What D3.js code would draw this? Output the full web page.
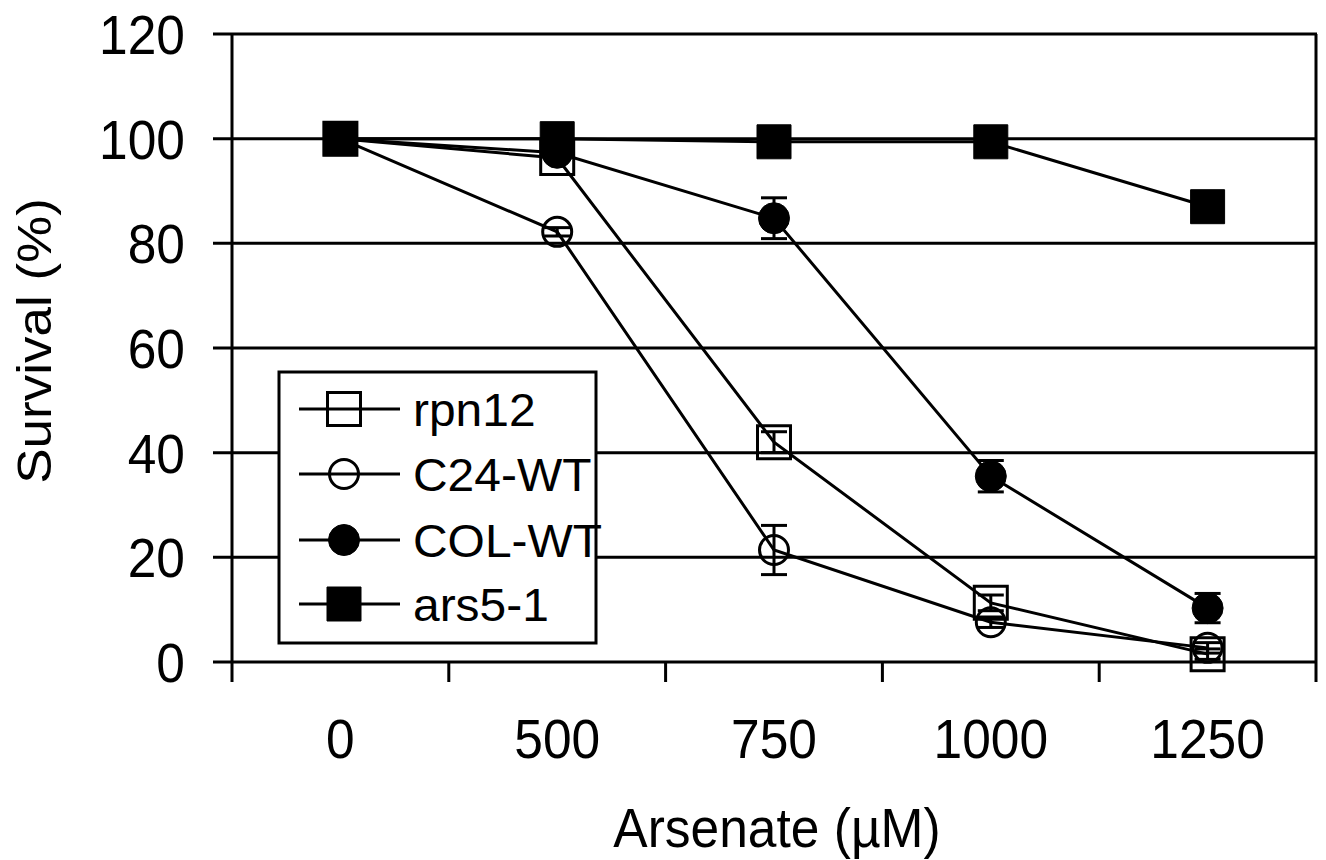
<!DOCTYPE html>
<html>
<head>
<meta charset="utf-8" />
<title>Survival vs arsenate</title>
<style>
html, body {
    padding: 0px;
    margin: 0px;
    background: #fff;
}
svg text {
    font-family: "Liberation Sans", Arial, sans-serif;
    fill: #000;
}
</style>
</head>
<body>
<div id="chart"></div>

<script src="https://cdnjs.cloudflare.com/ajax/libs/d3/7.8.5/d3.min.js"></script>
<script>
// chart values
var categories = ["0", "500", "750", "1000", "1250"];
var yTicks = [0, 20, 40, 60, 80, 100, 120];

var seriesNames = ["rpn12", "C24-WT", "COL-WT", "ars5-1"];
var rpn12 = [100, 96.3, 42, 11.3, 1.5];
var rpn12Err = [0, 0.5, 2, 1.5, 1];
var c24 = [100, 82.2, 21.4, 7.6, 2.7];
var c24Err = [0, 0.8, 4.7, 1, 1];
var col = [100, 97.3, 84.8, 35.5, 10.3];
var colErr = [0, 0.5, 3.9, 3, 2.8];
var ars5 = [100, 100, 99.4, 99.4, 87];
var ars5Err = [0, 0, 0, 0, 0];

!(function(){
    "use strict"

    var width = 1326, height = 860;
    var left = 232, right = 1316, top = 34, bottom = 662;

    var svg = d3.select("#chart").append("svg")
        .attr("width", width)
        .attr("height", height)

    var x = d3.scaleBand().domain(categories).range([left, right])
    var y = d3.scaleLinear().domain([0, 120]).range([bottom, top])

    var series = [
        {name: seriesNames[0], values: rpn12, err: rpn12Err, shape: d3.symbolSquare, size: 33 * 33, filled: false},
        {name: seriesNames[1], values: c24, err: c24Err, shape: d3.symbolCircle, size: Math.PI * 14.5 * 14.5, filled: false},
        {name: seriesNames[2], values: col, err: colErr, shape: d3.symbolCircle, size: Math.PI * 15.5 * 15.5, filled: true},
        {name: seriesNames[3], values: ars5, err: ars5Err, shape: d3.symbolSquare, size: 34 * 34, filled: true}
    ];

    main()

    function main() {
        drawAxes()
        drawSeries()
        drawLegend()
    }

    function cx(c) {
        return x(c) + x.bandwidth() / 2;
    }

    function drawAxes() {
        var g = svg.append("g")

        // horizontal grid lines, sticking out left of the axis as ticks
        g.selectAll("line.grid")
            .data(yTicks)
            .enter()
            .append("line")
            .attr("class", "grid")
            .attr("x1", left - 19)
            .attr("x2", right + 1)
            .attr("y1", function(d){ return y(d) })
            .attr("y2", function(d){ return y(d) })
            .attr("stroke", "#000")
            .attr("stroke-width", 3)

        // x ticks at band edges; the outer two run the full height
        var edges = categories.map(function(c){ return x(c) }).concat([right])
        g.selectAll("line.xtick")
            .data(edges)
            .enter()
            .append("line")
            .attr("class", "xtick")
            .attr("x1", function(d){ return d })
            .attr("x2", function(d){ return d })
            .attr("y1", function(d, i){ return (i == 0 || i == edges.length - 1) ? top : bottom })
            .attr("y2", bottom + 20)
            .attr("stroke", "#000")
            .attr("stroke-width", 3)

        g.selectAll("text.ylab")
            .data(yTicks)
            .enter()
            .append("text")
            .attr("class", "ylab")
            .attr("text-anchor", "end")
            .attr("font-size", 56)
            .attr("transform", function(d){ return "translate(185," + (y(d) + 20) + ") scale(0.92,1)" })
            .text(function(d){ return d })

        g.selectAll("text.xlab")
            .data(categories)
            .enter()
            .append("text")
            .attr("class", "xlab")
            .attr("text-anchor", "middle")
            .attr("font-size", 56)
            .attr("transform", function(d){ return "translate(" + cx(d) + ",758) scale(0.92,1)" })
            .text(function(d){ return d })

        g.append("text")
            .attr("text-anchor", "middle")
            .attr("font-size", 56)
            .attr("transform", "translate(777,847) scale(0.92,1)")
            .text("Arsenate (\u00b5M)")

        g.append("text")
            .attr("text-anchor", "middle")
            .attr("font-size", 53)
            .attr("transform", "translate(51,341) rotate(-90) scale(1,0.92)")
            .text("Survival (%)")
    }

    function drawSeries() {
        var line = d3.line()
            .x(function(d, i){ return cx(categories[i]) })
            .y(function(d){ return y(d) })

        series.forEach(function(s) {
            var g = svg.append("g")

            var eb = g.selectAll("g.err")
                .data(s.values.map(function(v, i){ return {c: categories[i], v: v, e: s.err[i]} })
                    .filter(function(d){ return d.e > 0 }))
                .enter()
                .append("g")
                .attr("stroke", "#000")
                .attr("stroke-width", 3)

            eb.append("line")
                .attr("x1", function(d){ return cx(d.c) })
                .attr("x2", function(d){ return cx(d.c) })
                .attr("y1", function(d){ return y(d.v + d.e) })
                .attr("y2", function(d){ return y(d.v - d.e) })
            eb.append("line")
                .attr("x1", function(d){ return cx(d.c) - 13 })
                .attr("x2", function(d){ return cx(d.c) + 13 })
                .attr("y1", function(d){ return y(d.v + d.e) })
                .attr("y2", function(d){ return y(d.v + d.e) })
            eb.append("line")
                .attr("x1", function(d){ return cx(d.c) - 13 })
                .attr("x2", function(d){ return cx(d.c) + 13 })
                .attr("y1", function(d){ return y(d.v - d.e) })
                .attr("y2", function(d){ return y(d.v - d.e) })

            g.append("path")
                .attr("d", line(s.values))
                .attr("fill", "none")
                .attr("stroke", "#000")
                .attr("stroke-width", 3)

            var sym = d3.symbol().type(s.shape).size(s.size)
            g.selectAll("path.mark")
                .data(s.values)
                .enter()
                .append("path")
                .attr("class", "mark")
                .attr("d", sym)
                .attr("transform", function(d, i){ return "translate(" + cx(categories[i]) + "," + y(d) + ")" })
                .attr("fill", s.filled ? "#000" : "none")
                .attr("stroke", "#000")
                .attr("stroke-width", s.filled ? 1 : 3)
        })
    }

    function drawLegend() {
        var lg = svg.append("g")

        lg.append("rect")
            .attr("x", 279)
            .attr("y", 372)
            .attr("width", 317)
            .attr("height", 271)
            .attr("fill", "#fff")
            .attr("stroke", "#000")
            .attr("stroke-width", 3)

        var rows = [409, 474, 540, 604];

        var item = lg.selectAll("g.item")
            .data(series)
            .enter()
            .append("g")
            .attr("class", "item")
            .attr("transform", function(d, i){ return "translate(0," + rows[i] + ")" })

        item.append("line")
            .attr("x1", 299)
            .attr("x2", 400)
            .attr("stroke", "#000")
            .attr("stroke-width", 3)

        item.append("path")
            .attr("d", function(d){ return d3.symbol().type(d.shape).size(d.size)() })
            .attr("transform", "translate(344,0)")
            .attr("fill", function(d){ return d.filled ? "#000" : "none" })
            .attr("stroke", "#000")
            .attr("stroke-width", function(d){ return d.filled ? 1 : 3 })

        item.append("text")
            .attr("transform", "translate(413,17) scale(1.02,1)")
            .attr("font-size", 47)
            .text(function(d){ return d.name })
    }

}());
</script>
</body>
</html>
